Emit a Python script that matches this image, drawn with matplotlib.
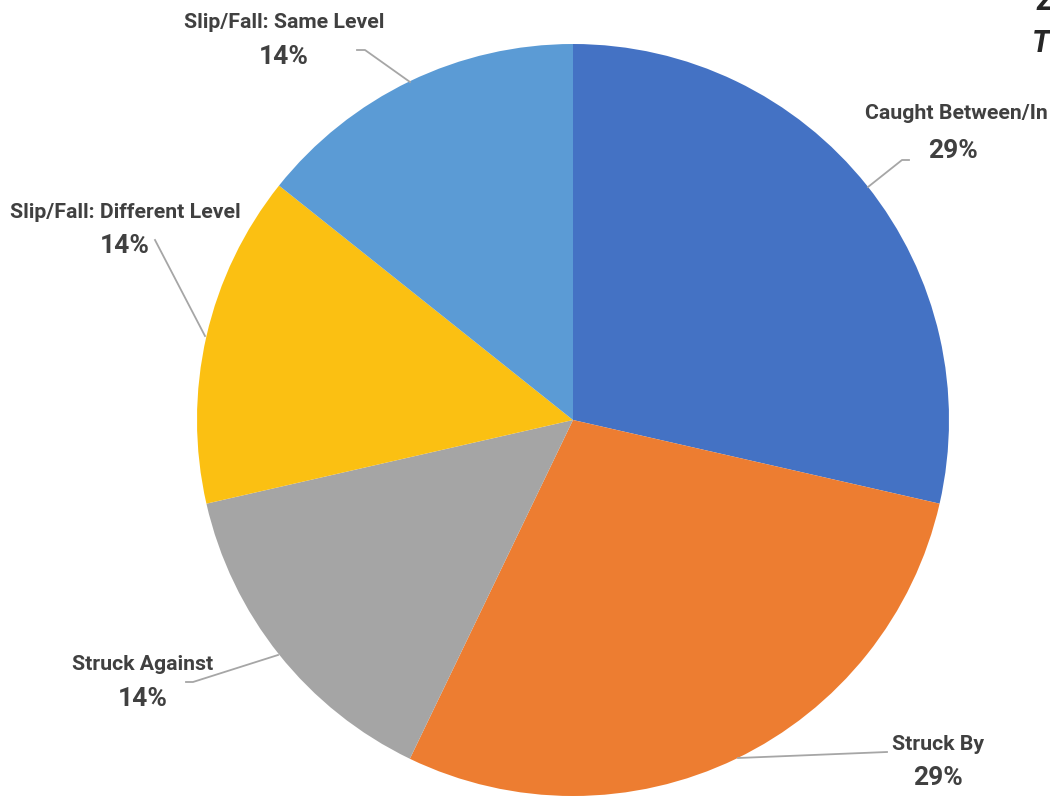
import matplotlib.pyplot as plt

# datos del gráfico
categorias = ["Caught Between/In", "Struck By", "Struck Against",
              "Slip/Fall: Different Level", "Slip/Fall: Same Level"]
valores = [2, 2, 1, 1, 1]
colores = ["#4472C4", "#ED7D31", "#A5A5A5", "#FBC012", "#5B9BD5"]

# posición de etiquetas (px, y desde arriba): nombre y porcentaje
pos_nombre = [(956, 113), (938, 744), (143, 665), (125, 212), (284, 22)]
pos_pct = [(953, 151), (938, 778), (143, 699), (125, 246), (284, 57)]
guias = [
    [(868, 187), (902, 160), (909, 160)],
    [(738, 758), (887, 752)],
    [(278, 655), (193, 682), (186, 682)],
    [(205, 336), (155, 240)],
    [(410, 82), (365, 50), (357, 50)],
]

W, H = 1050, 797
fig = plt.figure(figsize=(W / 100, H / 100), dpi=100)
ax = fig.add_axes([0, 0, 1, 1])

ax.pie(valores, colors=colores, startangle=90, counterclock=False,
       center=(573, H - 420), radius=376, frame=True,
       wedgeprops=dict(linewidth=0))
ax.set_xlim(0, W)
ax.set_ylim(0, H)
ax.axis("off")

fuente = dict(family=["Roboto", "DejaVu Sans"], weight="bold", color="#404040")
total = sum(valores)
for nombre, v, pn, pp, guia in zip(categorias, valores, pos_nombre, pos_pct, guias):
    pct = round(100 * v / total)
    ax.text(pn[0], H - pn[1], nombre, ha="center", va="center",
            fontsize=15.3, **fuente)
    ax.text(pp[0], H - pp[1], f"{pct}%", ha="center", va="center",
            fontsize=19, **fuente)
    ax.plot([p[0] for p in guia], [H - p[1] for p in guia],
            color="#A6A6A6", linewidth=1.3)

# título recortado en la esquina superior derecha
titulo = dict(family=["Roboto", "DejaVu Sans"], weight="bold", style="italic",
              fontsize=22, color="#262626", ha="left", va="baseline")
ax.text(1036, H - 10, "Z", **titulo)
ax.text(1032, H - 52, "T", **titulo)

fig.savefig("out.png", dpi=100)
